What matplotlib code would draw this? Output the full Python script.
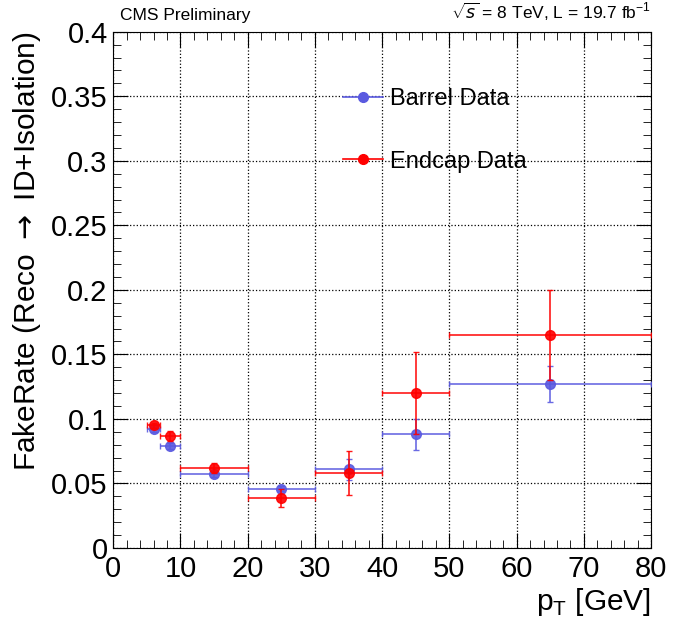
import matplotlib
matplotlib.use('Agg')
import matplotlib.pyplot as plt
from matplotlib.lines import Line2D
from matplotlib.ticker import MultipleLocator, FuncFormatter

plt.rcParams['font.family'] = ['Liberation Sans', 'DejaVu Sans']
plt.rcParams['mathtext.fontset'] = 'custom'
plt.rcParams['mathtext.rm'] = 'Liberation Sans'

# bins in pT
bin_lo = [5, 7, 10, 20, 30, 40, 50]
bin_hi = [7, 10, 20, 30, 40, 50, 80]
pt = [6, 8.5, 15, 25, 35, 45, 65]

barrel = [0.092, 0.079, 0.057, 0.046, 0.061, 0.088, 0.127]
barrel_err = [0.002, 0.002, 0.002, 0.002, 0.008, 0.012, 0.014]
endcap = [0.095, 0.087, 0.062, 0.039, 0.058, 0.120, 0.165]
endcap_err = [0.002, 0.004, 0.004, 0.007, 0.017, 0.032, 0.035]

blue = '#5a5ae0'
red = '#ff0000'

fig = plt.figure(figsize=(6.74, 6.22), dpi=100)
ax = fig.add_axes([0.168, 0.119, 0.798, 0.830])

xlo = [p - l for p, l in zip(pt, bin_lo)]
xhi = [h - p for p, h in zip(pt, bin_hi)]

ax.errorbar(pt, barrel, xerr=[xlo, xhi], yerr=barrel_err, fmt='o', color=blue,
            ecolor=blue, markersize=7, elinewidth=1.2, capsize=2, alpha=0.9, zorder=3)
ax.errorbar(pt, endcap, xerr=[xlo, xhi], yerr=endcap_err, fmt='o', color=red,
            ecolor=red, markersize=7, elinewidth=1.2, capsize=2, alpha=0.9, zorder=4)

ax.set_xlim(0, 80)
ax.set_ylim(0, 0.4)
ax.xaxis.set_major_locator(MultipleLocator(10))
ax.xaxis.set_minor_locator(MultipleLocator(2))
ax.yaxis.set_major_locator(MultipleLocator(0.05))
ax.yaxis.set_minor_locator(MultipleLocator(0.01))
ax.yaxis.set_major_formatter(FuncFormatter(lambda v, p: ('%.2f' % v).rstrip('0').rstrip('.') if v else '0'))
ax.tick_params(which='both', direction='in', top=True, right=True, labelsize=21)
ax.tick_params(which='major', length=11)
ax.tick_params(which='minor', length=6)
ax.tick_params(axis='x', pad=5)
ax.tick_params(axis='y', pad=4)
ax.grid(True, which='major', linestyle=':', color='black', linewidth=0.9)

ax.set_ylabel('FakeRate (Reco $\\rightarrow$ ID+Isolation)', fontsize=21.5, loc='top',
              labelpad=6, math_fontfamily='dejavusans')
ax.set_xlabel('p$_{\\mathregular{T}}$ [GeV]', fontsize=21.5, loc='right', labelpad=2)

fig.text(0.178, 0.963, 'CMS Preliminary', fontsize=12.5, va='bottom')
fig.text(0.966, 0.963, '$\\sqrt{s}$ = 8 TeV, L = 19.7 fb$^{-1}$', fontsize=12.5,
         va='bottom', ha='right')

handles = [Line2D([], [], color=blue, marker='o', markersize=7, lw=1.2),
           Line2D([], [], color=red, marker='o', markersize=7, lw=1.2)]
ax.legend(handles, ['Barrel Data', 'Endcap Data'], loc='upper left',
          bbox_to_anchor=(0.388, 0.932), frameon=False, fontsize=17,
          labelspacing=1.72, handlelength=1.7, handletextpad=0.3)

fig.savefig('out.png', dpi=100)
